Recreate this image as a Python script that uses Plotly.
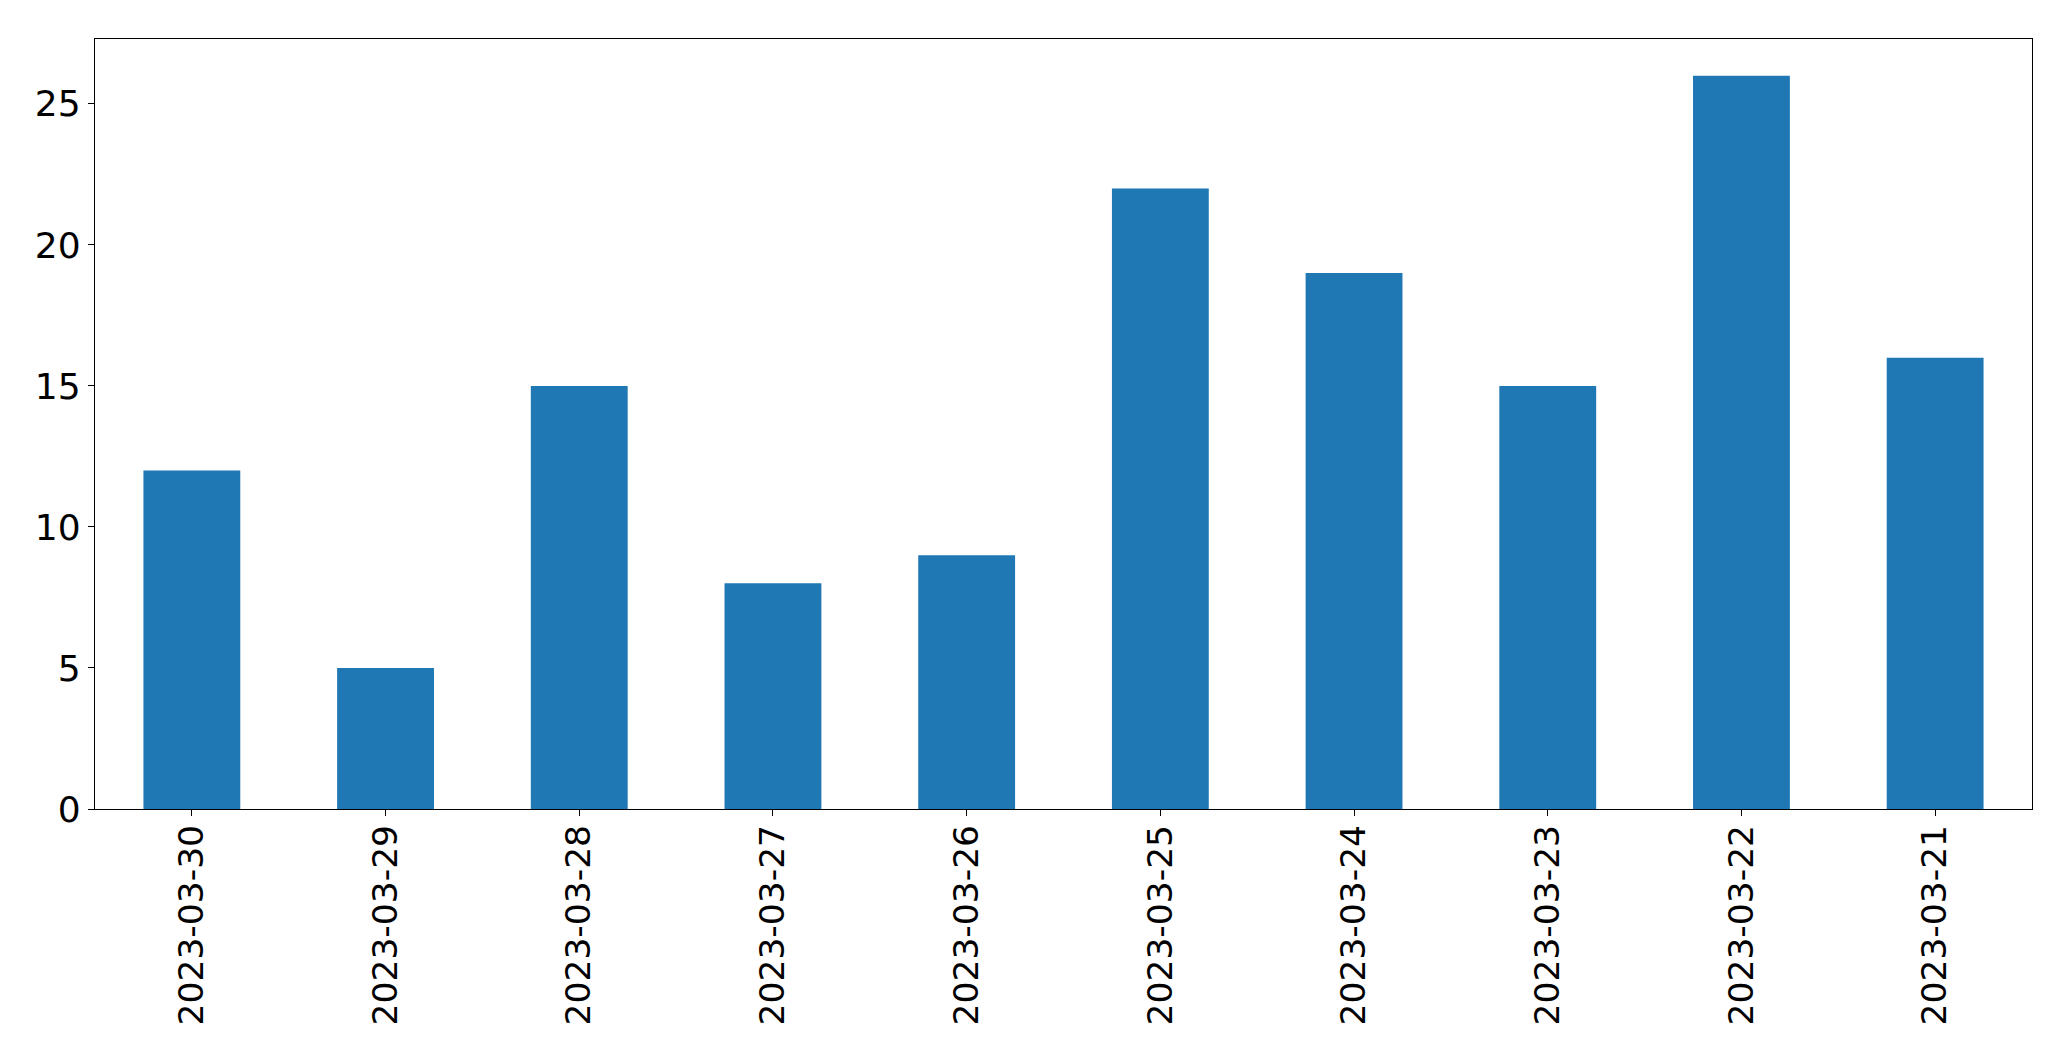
import plotly.graph_objects as go

dates = ["2023-03-30", "2023-03-29", "2023-03-28", "2023-03-27", "2023-03-26",
         "2023-03-25", "2023-03-24", "2023-03-23", "2023-03-22", "2023-03-21"]
counts = [12, 5, 15, 8, 9, 22, 19, 15, 26, 16]
y_ticks = [0, 5, 10, 15, 20, 25]

fig = go.Figure(go.Bar(x=list(range(len(dates))), y=counts, width=0.5,
                       marker=dict(color="#1f77b4", line=dict(width=0))))

axis_common = dict(showline=True, linecolor="black", linewidth=1.3, mirror=True,
                   ticks="outside", ticklen=6, tickwidth=1.3, tickcolor="black",
                   showgrid=False, zeroline=False)

fig.update_layout(
    width=2071, height=1061,
    margin=dict(l=95, r=39, t=39, b=252),
    paper_bgcolor="white", plot_bgcolor="white",
    showlegend=False,
    xaxis=dict(range=[-0.5, len(dates) - 0.5], tickmode="array",
               tickvals=list(range(len(dates))), ticktext=dates, tickangle=-90,
               ticklabelstandoff=-5,
               tickfont=dict(family="DejaVu Sans", size=34.5, color="black"),
               **axis_common),
    yaxis=dict(range=[0, 27.3], tickmode="array", tickvals=y_ticks,
               ticktext=[str(v) for v in y_ticks],
               tickfont=dict(family="DejaVu Sans", size=36, color="black"),
               **axis_common),
)

fig.write_html("out.html")
